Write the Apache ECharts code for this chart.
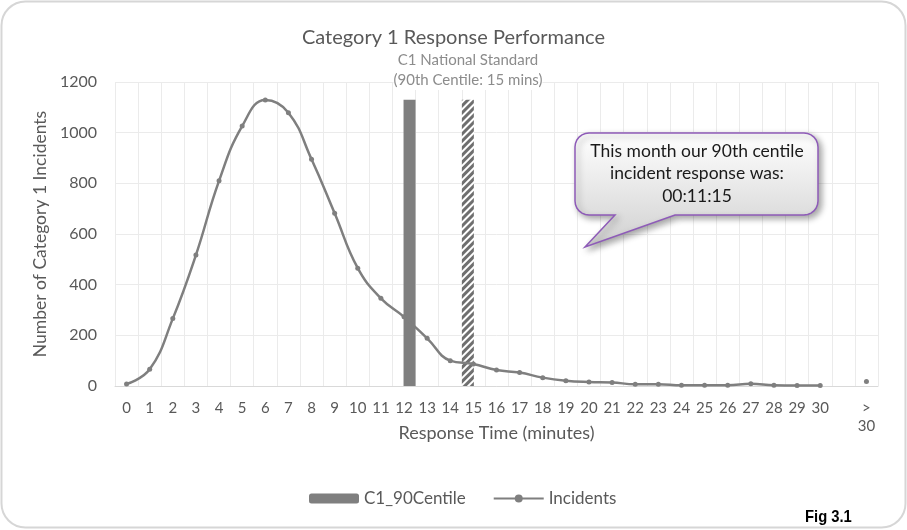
<!DOCTYPE html>
<html>
<head>
<meta charset="utf-8">
<script src="https://cdn.jsdelivr.net/npm/echarts@6/dist/echarts.min.js"></script>
<style>
html,body{margin:0;padding:0;background:#fff;}
#chart{width:907px;height:530px;}
</style>
</head>
<body>
<div id="chart"></div>
<script>
const categories = ['0','1','2','3','4','5','6','7','8','9','10','11','12','13','14','15','16','17','18','19','20','21','22','23','24','25','26','27','28','29','30','','>\n30'];
const incidents = [8,66,266,517,810,1026,1129,1079,895,682,465,346,273,188,100,87,63,53,33,21,16,14,7,7,3,3,3,9,3,2,2,null,18];
const c1Centile = [null,null,null,null,null,null,null,null,null,null,null,null,1130,null,null,null,null,null,null,null,null,null,null,null,null,null,null,null,null,null,null,null,null];
const nationalStandard = [null,null,null,null,null,null,null,null,null,null,null,null,null,null,null,1130,null,null,null,null,null,null,null,null,null,null,null,null,null,null,null,null,null];
const yTicks = {min:0, max:1200, interval:200};

// callout bubble outline (decoration)
function arcPts(cx, cy, r, a0, a1) {
  const pts = [];
  for (let i = 0; i <= 6; i++) {
    const a = a0 + (a1 - a0) * i / 6;
    pts.push([cx + r * Math.cos(a), cy + r * Math.sin(a)]);
  }
  return pts;
}
const bx0 = 575, bx1 = 818, by0 = 133, by1 = 215, br = 14;
const bubble = [].concat(
  arcPts(bx0 + br, by0 + br, br, Math.PI, 1.5 * Math.PI),
  arcPts(bx1 - br, by0 + br, br, 1.5 * Math.PI, 2 * Math.PI),
  arcPts(bx1 - br, by1 - br, br, 0, 0.5 * Math.PI),
  [[675, by1], [585, 247], [615, by1]],
  arcPts(bx0 + br, by1 - br, br, 0.5 * Math.PI, Math.PI)
);

const FONT = 'Lato, "Open Sans", sans-serif';
const chart = echarts.init(document.getElementById('chart'), null, {renderer:'canvas'});
chart.setOption({
  animation:false,
  backgroundColor:'#ffffff',
  title:{text:'Category 1 Response Performance', left:'center', top:23,
    textStyle:{fontFamily:FONT, fontSize:20, fontWeight:'normal', color:'#595959'}},
  grid:{left:115, right:29, top:82, bottom:144, containLabel:false},
  legend:{data:['C1_90Centile','Incidents'], left:304, top:485, itemWidth:50, itemHeight:10, itemGap:27,
    textStyle:{fontFamily:FONT, fontSize:17, color:'#595959'}},
  xAxis:{type:'category', data:categories, boundaryGap:true,
    name:'Response Time (minutes)', nameLocation:'middle', nameGap:38, nameMoveOverlap:false,
    nameTextStyle:{fontFamily:FONT, fontSize:18, color:'#595959'},
    axisLine:{lineStyle:{color:'#d9d9d9'}}, axisTick:{show:false},
    axisLabel:{interval:0, fontFamily:FONT, fontSize:15, color:'#595959', margin:13, lineHeight:18},
    splitLine:{show:true, interval:0, lineStyle:{color:'#ebebeb'}}},
  yAxis:{type:'value', min:yTicks.min, max:yTicks.max, interval:yTicks.interval,
    name:'Number of Category 1 Incidents', nameLocation:'middle', nameGap:64,
    nameTextStyle:{fontFamily:FONT, fontSize:17.5, color:'#595959'},
    axisLine:{show:false}, axisTick:{show:false},
    axisLabel:{fontFamily:FONT, fontSize:16, color:'#595959', margin:18, formatter:function(v){return String(v);}},
    splitLine:{lineStyle:{color:'#ebebeb'}}},
  series:[
    {name:'National Standard', type:'bar', data:nationalStandard, barWidth:12, barGap:'-8%',
      itemStyle:{color:'#ffffff', decal:{symbol:'rect', color:'#6f6f6f', dashArrayX:[1,0], dashArrayY:[2.5,1.5], rotation:-Math.PI/4, symbolSize:1}}, z:1},
    {name:'C1_90Centile', type:'bar', data:c1Centile, barWidth:12, barGap:'-8%',
      itemStyle:{color:'#7f7f7f'}, z:1},
    {name:'Incidents', type:'line', data:incidents, smooth:0.45, connectNulls:false,
      symbol:'circle', symbolSize:5, showSymbol:true, showAllSymbol:true,
      lineStyle:{color:'#7f7f7f', width:2.5}, itemStyle:{color:'#7f7f7f'}, z:3}
  ],
  graphic:[
    {type:'rect', shape:{x:1.5, y:1.5, width:904, height:526, r:24}, style:{fill:'none', stroke:'#d6d6d6', lineWidth:2}, silent:true},
    {type:'text', x:468, y:50, z:5, style:{text:'C1 National Standard\n(90th Centile: 15 mins)', align:'center', fontFamily:FONT, fontSize:15, lineHeight:20, fill:'#8c8c8c', backgroundColor:'#ffffff'}},
    {type:'polygon', shape:{points:bubble},
      style:{fill:{type:'linear', x:0, y:0, x2:0, y2:1, colorStops:[{offset:0, color:'#ffffff'},{offset:1, color:'#d0d0d0'}]},
        stroke:'#8e5bb8', lineWidth:1.5, shadowBlur:6, shadowOffsetX:3, shadowOffsetY:3, shadowColor:'rgba(0,0,0,0.35)'}, z:10},
    {type:'text', x:697, y:140, style:{text:'This month our 90th centile\nincident response was:\n00:11:15', align:'center', fontFamily:FONT, fontSize:17.5, lineHeight:22.5, fill:'#1a1a1a'}, z:11},
    {type:'text', x:805, y:509, scaleX:0.87, originX:0, originY:0, style:{text:'Fig 3.1', fontFamily:'"Liberation Sans Narrow", "Liberation Sans", Arial, sans-serif', fontSize:17, fontWeight:'bold', fill:'#000000'}}
  ]
});
</script>
</body>
</html>
